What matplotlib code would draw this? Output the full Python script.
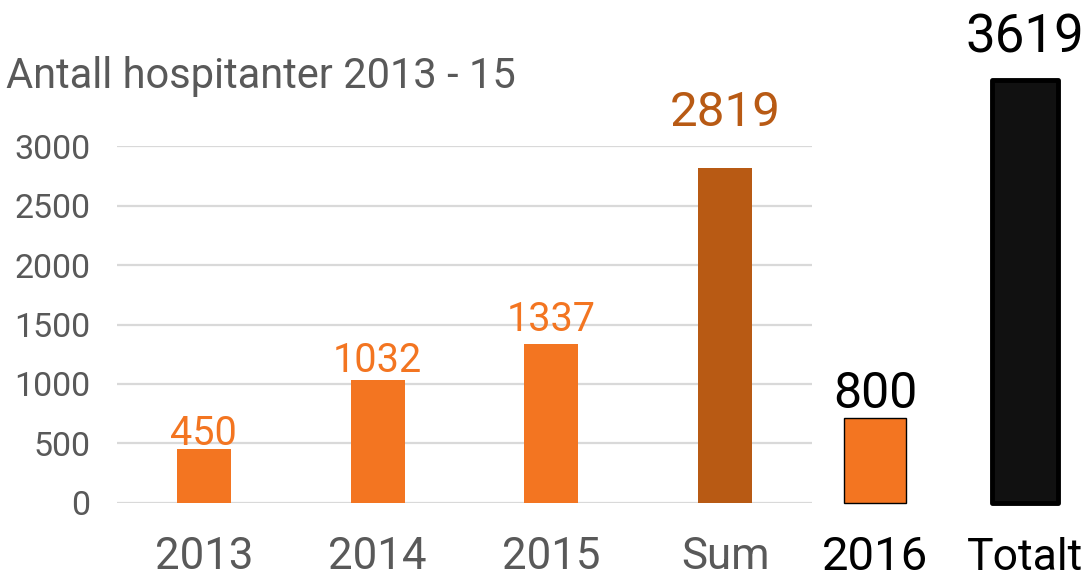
import matplotlib
matplotlib.use("Agg")
import matplotlib.pyplot as plt

plt.rcParams['font.family'] = ['Roboto', 'DejaVu Sans']

# ---- data ----
categories = ["2013", "2014", "2015", "Sum"]
values = [450, 1032, 1337, 2819]
value_labels = ["450", "1032", "1337", "2819"]

extra_categories = ["2016", "Totalt"]
extra_heights = [710, 3560]          # heights as drawn in the picture
extra_labels = ["800", "3619"]

yticks = [0, 500, 1000, 1500, 2000, 2500, 3000]
title = "Antall hospitanter 2013 - 15"

# ---- style ----
ORANGE = "#F37521"
DARK = "#B85A14"
GREY = "#595959"
GRID = "#D9D9D9"
bar_colors = [ORANGE, ORANGE, ORANGE, DARK]
label_offsets_px = [4, 8, 13, 42]

W, H = 1088, 578
fig = plt.figure(figsize=(W / 100, H / 100), dpi=100)

def fx(px):
    return px / W

def fy(px):
    return 1 - px / H

y0_px, y3000_px = 502.7, 146.5
ax = fig.add_axes([fx(117), fy(y0_px), fx(812 - 117), (y0_px - y3000_px) / H])
ax.set_xlim(-0.5, 3.5)
ax.set_ylim(0, 3000)
x = list(range(len(categories)))
ax.bar(x, values, width=0.31, color=bar_colors, zorder=3)
for s in ax.spines.values():
    s.set_visible(False)
ax.set_yticks(yticks)
ax.set_yticklabels([str(t) for t in yticks])
ax.yaxis.grid(True, color=GRID, linewidth=1.6, zorder=0)
ax.tick_params(axis='y', length=0, pad=19, labelsize=24.5, labelcolor=GREY)
ax.set_xticks(x)
ax.set_xticklabels(categories)
ax.tick_params(axis='x', length=0, pad=24, labelsize=31.5, labelcolor=GREY)

px_per_unit = (y0_px - y3000_px) / 3000
for xi, v, lab, c, off in zip(x, values, value_labels, bar_colors, label_offsets_px):
    fs = 28.5 if c == ORANGE else 35.5
    ax.text(xi, v + off / px_per_unit, lab, ha='center', va='baseline',
            fontsize=fs, color=c, clip_on=False, zorder=4)

fig.text(fx(6), fy(88), title, fontsize=30, color=GREY, ha='left', va='baseline')

# ---- extra bars (2016 / Totalt) ----
ax2 = fig.add_axes([fx(830), fy(y0_px), fx(1070 - 830), (y0_px - y3000_px) / H])
ax2.set_xlim(-0.3, 1.3)
ax2.set_ylim(0, 3000)
ax2.axis('off')
ax2.bar([0], [extra_heights[0]], width=0.41, color=ORANGE,
        edgecolor='black', linewidth=1.0, clip_on=False)
b2 = ax2.bar([1], [extra_heights[1]], width=0.44, color="#111111",
             edgecolor='black', linewidth=3.5, clip_on=False)
for p in b2:
    p.set_joinstyle('round')
extra_offsets_px = [10, 28]
extra_sizes = [36, 38]
for xi, h, lab, off, fs in zip([0, 1], extra_heights, extra_labels, extra_offsets_px, extra_sizes):
    ax2.text(xi, h + off / px_per_unit, lab, ha='center', va='baseline',
             fontsize=fs, color='black', clip_on=False)
cat_sizes = [34, 32]
cat_y = -(570 - y0_px) / (y0_px - y3000_px)
for xi, lab, fs in zip([0, 1], extra_categories, cat_sizes):
    ax2.text(xi, cat_y, lab, ha='center', va='baseline', fontsize=fs, color='black',
             transform=ax2.get_xaxis_transform(), clip_on=False)

fig.savefig("out.png", dpi=100)
